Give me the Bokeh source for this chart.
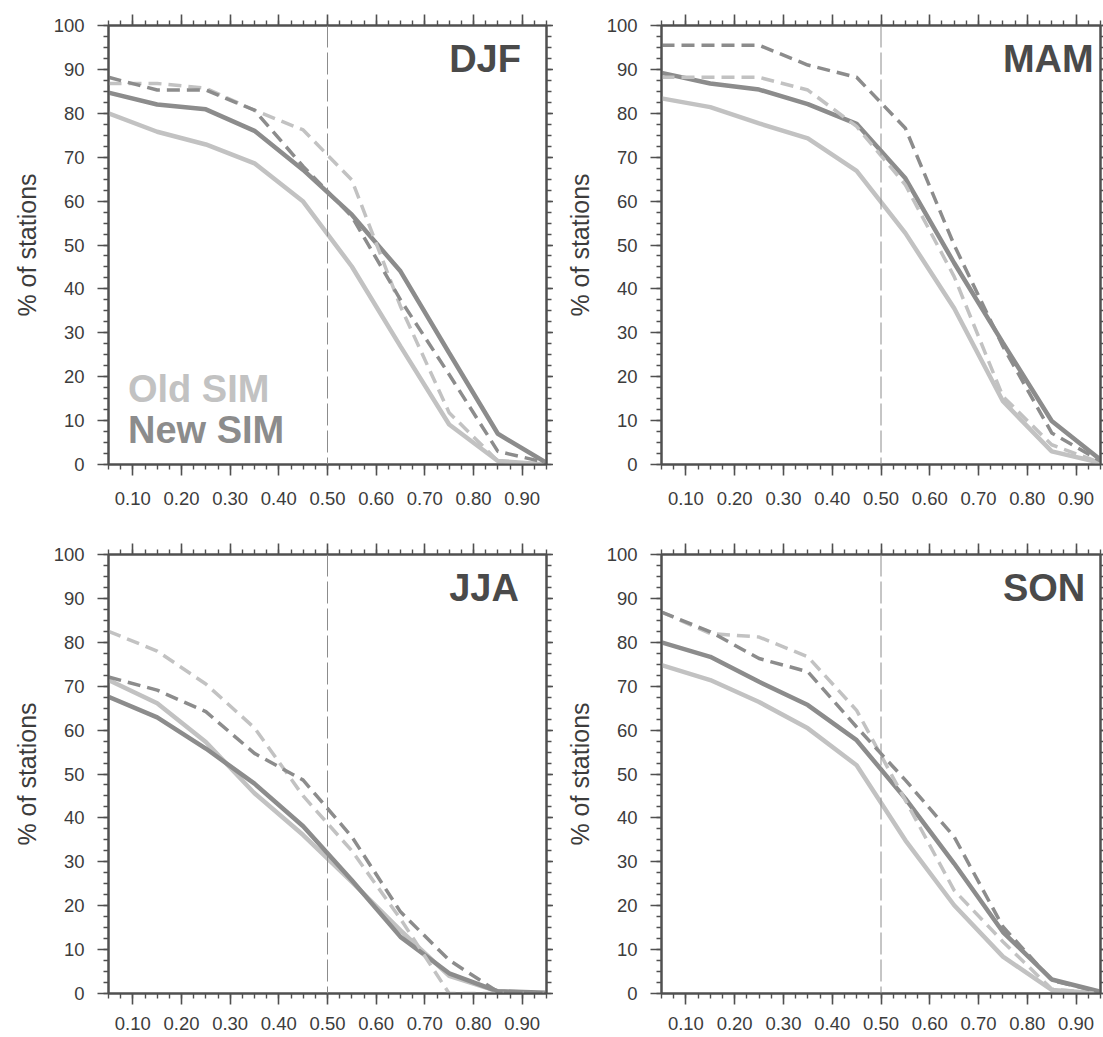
import numpy as np
from bokeh.plotting import figure
from bokeh.layouts import gridplot
from bokeh.models import (Range1d, FixedTicker, LinearAxis, Span, Label,
                          PrintfTickFormatter, CustomJSTickFormatter)
from bokeh.embed import file_html
from bokeh.resources import INLINE

# ---------------- data ----------------
thresholds = [0.05, 0.15, 0.25, 0.35, 0.45, 0.55, 0.65, 0.75, 0.85, 0.95]
seasons = ["DJF", "MAM", "JJA", "SON"]

djf_old = [80.0, 75.8, 72.9, 68.6, 59.9, 45.1, 26.9, 9.1, 0.8, 0.0]
djf_new = [84.7, 82.0, 80.9, 76.0, 67.1, 56.9, 44.0, 25.4, 7.0, 0.4]
djf_old_dash = [86.8, 86.8, 85.7, 80.7, 76.2, 64.8, 36.0, 11.8, 0.8, 0.0]
djf_new_dash = [88.2, 85.3, 85.3, 80.7, 67.9, 56.5, 37.5, 20.5, 3.0, 0.4]

mam_old = [83.4, 81.4, 77.7, 74.3, 66.9, 52.7, 35.6, 14.4, 3.0, 0.4]
mam_new = [89.2, 86.8, 85.4, 82.1, 77.6, 65.2, 45.9, 27.7, 9.9, 1.1]
mam_old_dash = [88.2, 88.2, 88.2, 85.3, 77.0, 63.7, 42.8, 15.5, 4.5, 0.4]
mam_new_dash = [95.5, 95.5, 95.5, 91.0, 88.2, 76.6, 50.0, 26.9, 7.2, 0.8]

jja_old = [71.4, 66.1, 57.3, 45.6, 36.1, 25.4, 14.4, 4.0, 0.5, 0.0]
jja_new = [67.6, 62.9, 55.8, 47.8, 38.1, 25.8, 12.9, 4.6, 0.5, 0.15]
jja_old_dash = [82.5, 78.0, 70.5, 60.5, 45.0, 32.5, 17.0, 0.0, 0.0, 0.0]
jja_new_dash = [72.1, 69.1, 64.2, 54.7, 48.6, 35.7, 18.6, 7.6, 0.4, 0.0]

son_old = [74.8, 71.4, 66.4, 60.4, 52.0, 34.9, 20.1, 8.4, 0.8, 0.0]
son_new = [80.0, 76.7, 71.0, 65.7, 57.7, 44.4, 29.6, 14.0, 3.2, 0.4]
son_old_dash = [86.9, 82.0, 81.2, 76.7, 64.5, 44.0, 23.5, 11.8, 1.0, 0.0]
son_new_dash = [86.9, 82.4, 76.3, 73.3, 60.7, 48.6, 35.7, 15.2, 3.0, 0.3]

x_tick_values = [0.1, 0.2, 0.3, 0.4, 0.5, 0.6, 0.7, 0.8, 0.9]
y_tick_values = [0, 10, 20, 30, 40, 50, 60, 70, 80, 90, 100]

# ---------------- style ----------------
FONT = "Liberation Sans"
AXIS_COL = "#505050"
LABEL_COL = "#3c3c3c"
OLD_COL = "#c2c2c2"
NEW_COL = "#8c8c8c"
TITLE_COL = "#4a4a4a"

x_minor = list(np.round(np.arange(0.05, 0.9501, 0.025), 4))
y_minor = list(np.round(np.arange(0, 100.01, 2.5), 2))


def style_axis(ax, xdir, show_labels, tick_out=11, minor_out=5, standoff=13):
    ax.ticker = FixedTicker(ticks=x_tick_values if xdir else y_tick_values,
                            minor_ticks=x_minor if xdir else y_minor)
    ax.axis_line_color = AXIS_COL
    ax.axis_line_width = 2
    ax.major_tick_line_color = AXIS_COL
    ax.major_tick_line_width = 1.6
    ax.minor_tick_line_color = AXIS_COL
    ax.minor_tick_line_width = 1.4
    ax.major_tick_in = 0
    ax.minor_tick_in = 0
    ax.major_tick_out = tick_out
    ax.minor_tick_out = minor_out
    ax.major_label_text_font = FONT
    ax.major_label_text_color = LABEL_COL
    if show_labels:
        ax.major_label_text_font_size = "18.5px"
        ax.major_label_standoff = standoff
        if xdir:
            ax.formatter = PrintfTickFormatter(format="%.2f")
    else:
        ax.major_label_text_font_size = "1px"
        ax.major_label_standoff = 0
        ax.formatter = CustomJSTickFormatter(code="return '';")


def make_panel(title, old, new, old_d, new_d, width, height, left, right, bottom,
               xstandoff, legend):
    p = figure(width=width, height=height,
               x_range=Range1d(0.05, 0.95), y_range=Range1d(0, 100),
               output_backend="svg", toolbar_location=None, tools="",
               min_border_left=left, min_border_right=right,
               min_border_top=25, min_border_bottom=bottom)
    p.grid.visible = False
    p.outline_line_color = AXIS_COL
    p.outline_line_width = 2
    p.background_fill_color = "white"
    p.border_fill_color = "white"

    top_ax = LinearAxis()
    right_ax = LinearAxis()
    p.add_layout(top_ax, "above")
    p.add_layout(right_ax, "right")

    style_axis(p.below[0], True, True, standoff=xstandoff)
    style_axis(top_ax, True, False)
    style_axis(p.left[0], False, True, standoff=13)
    style_axis(right_ax, False, False, tick_out=right, minor_out=min(5, right))

    ya = p.left[0]
    ya.axis_label = "% of stations"
    ya.axis_label_text_font = FONT
    ya.axis_label_text_font_style = "normal"
    ya.axis_label_text_font_size = "25px"
    ya.axis_label_text_color = LABEL_COL
    ya.axis_label_standoff = 10

    p.add_layout(Span(location=0.5, dimension="height", line_color="#8c8c8c",
                      line_width=1, line_dash="22 5"))

    p.line(thresholds, old, line_color=OLD_COL, line_width=4.5)
    p.line(thresholds, new, line_color=NEW_COL, line_width=4.5)
    p.line(thresholds, old_d, line_color=OLD_COL, line_width=3.5, line_dash="13 7")
    p.line(thresholds, new_d, line_color=NEW_COL, line_width=3.5, line_dash="13 7")

    p.add_layout(Label(x=0.75, y=92.4, text=title, text_font=FONT,
                       text_font_style="bold", text_font_size="38px",
                       text_color=TITLE_COL, text_align="left",
                       text_baseline="alphabetic"))
    if legend:
        p.add_layout(Label(x=0.09, y=17.2, text="Old SIM", text_font=FONT,
                           text_font_style="bold", text_font_size="38px",
                           text_color=OLD_COL, text_align="left",
                           text_baseline="alphabetic"))
        p.add_layout(Label(x=0.09, y=7.8, text="New SIM", text_font=FONT,
                           text_font_style="bold", text_font_size="38px",
                           text_color=NEW_COL, text_align="left",
                           text_baseline="alphabetic"))
    return p


p1 = make_panel("DJF", djf_old, djf_new, djf_old_dash, djf_new_dash,
                553, 529, 108, 7, 65, 16, True)
p2 = make_panel("MAM", mam_old, mam_new, mam_old_dash, mam_new_dash,
                550, 529, 108, 3, 65, 16, False)
p3 = make_panel("JJA", jja_old, jja_new, jja_old_dash, jja_new_dash,
                553, 508, 108, 7, 44, 12, False)
p4 = make_panel("SON", son_old, son_new, son_old_dash, son_new_dash,
                550, 508, 108, 3, 44, 12, False)

grid = gridplot([[p1, p2], [p3, p4]], toolbar_location=None)

open("out.html", "w").write(file_html(grid, INLINE))
